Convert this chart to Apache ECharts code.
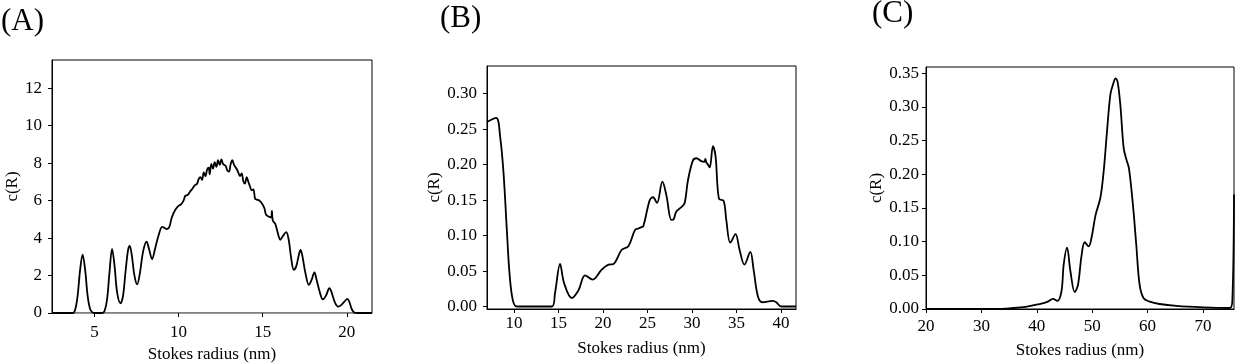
<!DOCTYPE html>
<html>
<head>
<meta charset="utf-8">
<script src="https://cdn.jsdelivr.net/npm/echarts@6/dist/echarts.min.js"></script>
<style>
html,body{margin:0;padding:0;background:#fff;}
#chart{width:1235px;height:364px;}
</style>
</head>
<body>
<div id="chart"></div>
<script>
// Panel A
const aRadius = [2.5,3.7,3.85,4.0,4.15,4.3,4.45,4.6,4.75,4.9,5.0,5.45,5.6,5.75,5.9,6.05,6.2,6.35,6.55,6.7,6.85,7.0,7.1,7.22,7.38,7.54,7.7,7.9,8.1,8.25,8.43,8.6,8.8,9.03,9.15,9.3,9.45,9.6,9.8,10.0,10.15,10.3,10.4,10.55,10.7,10.8,10.95,11.1,11.2,11.3,11.4,11.5,11.6,11.7,11.8,11.85,11.95,12.05,12.15,12.25,12.35,12.45,12.55,12.65,12.8,12.9,13.0,13.1,13.2,13.3,13.45,13.55,13.65,13.75,13.85,13.95,14.05,14.15,14.25,14.35,14.45,14.55,14.65,14.8,14.95,15.1,15.2,15.35,15.5,15.55,15.6,15.75,15.85,15.95,16.05,16.2,16.4,16.55,16.7,16.85,17.0,17.15,17.25,17.35,17.55,17.75,17.9,18.08,18.2,18.4,18.58,18.75,18.97,19.1,19.3,19.49,19.7,19.9,20.03,20.15,20.3,20.45,20.6,21.5];
const aC      = [0,0,0.15,0.9,2.3,3.12,2.3,0.9,0.2,0.02,0,0,0.1,0.7,2.2,3.42,2.5,1.1,0.52,0.9,2.2,3.35,3.58,3.1,2.0,1.53,2.1,3.3,3.81,3.4,2.87,3.4,4.1,4.6,4.55,4.48,4.58,5.1,5.5,5.72,5.8,6.0,6.25,6.3,6.5,6.6,6.8,6.9,7.15,7.25,7.1,7.5,7.3,7.65,7.75,7.4,7.95,7.7,8.05,7.8,8.15,7.9,8.2,7.95,7.85,7.6,7.55,7.95,8.15,7.9,7.7,7.5,7.3,7.45,7.05,6.9,7.25,7.0,6.75,6.55,6.6,6.1,6.05,6.0,5.85,5.6,5.25,5.15,5.1,5.45,4.95,4.75,4.45,4.1,3.9,4.1,4.32,3.9,2.9,2.3,2.5,3.1,3.37,3.1,2.1,1.5,1.75,2.16,1.8,1.1,0.73,0.9,1.32,1.1,0.55,0.34,0.45,0.65,0.75,0.6,0.2,0.02,0,0];
const aXTicks = [5,10,15,20];
const aYTicks = [0,2,4,6,8,10,12];

// Panel B
const bRadius = [6.93,7.98,8.43,8.81,9.18,9.48,9.85,10.3,14.24,14.6,15.17,15.62,16.48,17.24,17.98,18.84,19.85,20.61,21.17,22.1,22.85,23.6,23.98,24.35,24.5,25.25,25.62,26.07,26.67,27.12,27.68,27.94,28.24,28.8,29.18,29.55,30.11,30.5,31.05,31.4,31.5,31.62,31.8,32.0,32.36,32.66,33.03,33.56,33.86,34.31,34.9,35.35,35.9,36.56,36.93,37.42,37.91,39.1,39.48,40.04,41.7];
const bC      = [0.260,0.266,0.239,0.188,0.108,0.047,0.009,0.0,0.0,0.019,0.060,0.033,0.012,0.023,0.044,0.038,0.052,0.059,0.060,0.080,0.085,0.108,0.110,0.112,0.1125,0.150,0.154,0.146,0.176,0.157,0.122,0.123,0.134,0.140,0.146,0.178,0.206,0.209,0.205,0.204,0.208,0.203,0.200,0.196,0.226,0.211,0.152,0.149,0.122,0.090,0.102,0.080,0.059,0.077,0.052,0.014,0.006,0.008,0.006,0.0,0.0];
const bXTicks = [10,15,20,25,30,35,40];
const bYTicks = [0,0.05,0.10,0.15,0.20,0.25,0.30];

// Panel C
const cRadius = [20,33,35,38,40.5,42.0,42.9,43.7,44.45,44.86,45.46,46.07,46.85,47.44,48.06,48.65,49.37,49.86,50.63,51.48,52.07,52.67,53.28,53.75,54.23,54.59,55.08,55.68,56.16,56.63,57.35,57.96,58.56,59.28,60.36,62.16,65.2,70,74.8,75.3,75.6];
const cC      = [0,0,0.001,0.003,0.0074,0.011,0.015,0.012,0.026,0.066,0.091,0.056,0.025,0.036,0.078,0.099,0.093,0.105,0.140,0.165,0.204,0.263,0.318,0.333,0.342,0.337,0.303,0.239,0.222,0.209,0.155,0.095,0.036,0.016,0.011,0.0074,0.0045,0.0024,0.0015,0.012,0.17];
const cXTicks = [20,30,40,50,60,70];
const cYTicks = [0,0.05,0.10,0.15,0.20,0.25,0.30,0.35];

const panelLabels = ['(A)','(B)','(C)'];
const xTitle = 'Stokes radius (nm)';
const yTitle = 'c(R)';

const zip = (xs, ys) => xs.map((x, i) => [x, ys[i]]);
const FONT = 'Liberation Serif';

const grids = [
  {left: 52, top: 60, width: 320, height: 253},
  {left: 487, top: 66, width: 309, height: 243},
  {left: 926, top: 67, width: 308, height: 242}
];

function xAxis(idx, min, max, ticks, gap, lineColor, margin) {
  return {
    type: 'value', gridIndex: idx, min: min, max: max,
    name: xTitle, nameLocation: 'middle', nameGap: gap,
    nameTextStyle: {fontFamily: FONT, fontSize: 17, color: '#000'},
    axisLine: {show: true, onZero: false, lineStyle: {color: lineColor, width: 1}},
    axisTick: {show: true, inside: false, length: 4, customValues: ticks, lineStyle: {color: '#000'}},
    axisLabel: {customValues: ticks, fontFamily: FONT, fontSize: 17, color: '#000', margin: margin},
    splitLine: {show: false}
  };
}
function yAxis(idx, min, max, ticks, gap, dec, margin) {
  return {
    type: 'value', gridIndex: idx, min: min, max: max,
    name: yTitle, nameLocation: 'middle', nameGap: gap, nameRotate: 90,
    nameTextStyle: {fontFamily: FONT, fontSize: 17, color: '#000'},
    axisLine: {show: true, onZero: false, lineStyle: {color: '#000', width: 1}},
    axisTick: {show: true, inside: false, length: 4, customValues: ticks, lineStyle: {color: '#000'}},
    axisLabel: {customValues: ticks, fontFamily: FONT, fontSize: 17, color: '#000', margin: margin,
      formatter: v => v.toFixed(dec)},
    splitLine: {show: false}
  };
}

const chart = echarts.init(document.getElementById('chart'), null, {renderer: 'canvas'});
const lineStyle = {color: '#000', width: 1.8};
chart.setOption({
  animation: false,
  backgroundColor: '#fff',
  grid: grids.map(g => Object.assign({show: true, borderColor: '#000', borderWidth: 1, backgroundColor: 'transparent', containLabel: false, outerBoundsMode: 'none'}, g)),
  xAxis: [
    xAxis(0, 2.48, 21.5, aXTicks, 32, '#999', 11),
    xAxis(1, 6.95, 41.7, bXTicks, 31, '#000', 6),
    xAxis(2, 20, 75.6, cXTicks, 33, '#000', 9)
  ],
  yAxis: [
    yAxis(0, 0, 13.5, aYTicks, 31, 0, 10),
    yAxis(1, -0.0035, 0.339, bYTicks, 43, 2, 10),
    yAxis(2, 0, 0.359, cYTicks, 40, 2, 7)
  ],
  series: [
    {type: 'line', xAxisIndex: 0, yAxisIndex: 0, data: zip(aRadius, aC), showSymbol: false, smooth: 0.35, lineStyle: lineStyle, clip: true},
    {type: 'line', xAxisIndex: 1, yAxisIndex: 1, data: zip(bRadius, bC), showSymbol: false, smooth: 0.35, lineStyle: lineStyle, clip: true},
    {type: 'line', xAxisIndex: 2, yAxisIndex: 2, data: zip(cRadius, cC), showSymbol: false, smooth: 0.35, lineStyle: lineStyle, clip: true}
  ],
  graphic: [
    {type: 'text', left: 1, top: 6, style: {text: panelLabels[0], font: '31px "Liberation Serif"', fill: '#000'}},
    {type: 'text', left: 440, top: 3, style: {text: panelLabels[1], font: '31px "Liberation Serif"', fill: '#000'}},
    {type: 'text', left: 872, top: -2, style: {text: panelLabels[2], font: '31px "Liberation Serif"', fill: '#000'}}
  ]
});
</script>
</body>
</html>
